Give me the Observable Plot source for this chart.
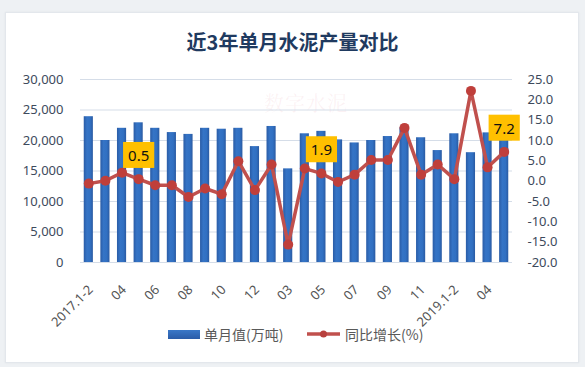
<!DOCTYPE html>
<html>
<head>
<meta charset="utf-8">
<script src="https://cdn.jsdelivr.net/npm/d3@7"></script>
<script src="https://cdn.jsdelivr.net/npm/@observablehq/plot@0.6"></script>
<style>
  html, body { margin: 0; padding: 0; }
  body { width: 585px; height: 367px; background: #eef1f4; position: relative; overflow: hidden;
         font-family: "Noto Sans", "Noto Sans CJK SC", sans-serif; }
  #card { position: absolute; left: 5px; top: 12px; width: 572px; height: 349px; background: #fff;
          border: 1px solid #e3e7ec; box-shadow: 0 0 2px rgba(0,0,0,0.06); }
  #title { position: absolute; left: 0; width: 585px; top: 27px; text-align: center;
           font: bold 20px "Noto Sans CJK SC", sans-serif; color: #1f3a60; letter-spacing: 0px; }
  #chart { position: absolute; left: 0; top: 0; }
  #legend { position: absolute; top: 324px; left: 0; width: 585px; height: 20px;
            font: 14px "Noto Sans CJK SC", sans-serif; color: #595959; }
  .lg { position: absolute; top: 0; line-height: 20px; white-space: nowrap; }
  #wm { position: absolute; left: 264px; top: 88px; font: 20px "Noto Serif CJK SC", "Noto Sans CJK SC", serif;
        color: rgba(226, 150, 160, 0.13); letter-spacing: 1px; }
</style>
</head>
<body>
<div id="card"></div>
<div id="wm">数字水泥</div>
<div id="chart"></div>
<div id="title">近3年单月水泥产量对比</div>
<div id="legend">
  <div class="lg" style="left:168px;top:6px;width:32px;height:9px;background:linear-gradient(#3a78c8,#2a5ca8);"></div>
  <div class="lg" style="left:204px;">单月值(万吨)</div>
  <svg class="lg" style="left:306px;top:4px;" width="35" height="12">
    <line x1="1" y1="6" x2="34" y2="6" stroke="#c0504d" stroke-width="3.5"/>
    <circle cx="17.5" cy="6" r="3.5" fill="#b8403d"/>
  </svg>
  <div class="lg" style="left:345px;">同比增长(%)</div>
</div>
<script>
const categories = ["2017.1-2","2017.03","2017.04","2017.05","2017.06","2017.07","2017.08","2017.09","2017.10","2017.11","2017.12",
  "2018.1-2","2018.03","2018.04","2018.05","2018.06","2018.07","2018.08","2018.09","2018.10","2018.11","2018.12",
  "2019.1-2","2019.03","2019.04","2019.05"];
const shortLabels = ["2017.1-2","03","04","05","06","07","08","09","10","11","12",
  "2018.1-2","03","04","05","06","07","08","09","10","11","12",
  "2019.1-2","03","04","05"];
const output = [23900, 20000, 22000, 22900, 22000, 21300, 21000, 22000, 21850, 22000, 19000,
  22300, 15350, 21100, 21500, 20100, 19600, 20000, 20650, 22100, 20450, 18350,
  21100, 18000, 21250, 20300];
const growth = [-0.6, 0.1, 2.1, 0.5, -1.0, -1.0, -3.9, -1.8, -3.2, 4.9, -2.2,
  4.1, -15.6, 3.1, 1.9, -0.2, 1.6, 5.2, 5.2, 13.1, 1.6,
  4.1, 0.5, 22.2, 3.4, 7.2];
const labeledMonths = ["2017.05", "2018.05", "2019.05"];
const leftTicks = [0, 5000, 10000, 15000, 20000, 25000, 30000];
const rightTicks = [-20, -15, -10, -5, 0, 5, 10, 15, 20, 25];
const tickedMonths = categories.filter((_, i) => i % 2 === 0);

const leftMax = 30000, rMin = -20, rMax = 25;
const toLeft = g => (g - rMin) / (rMax - rMin) * leftMax;
const fromLeft = v => v / leftMax * (rMax - rMin) + rMin;

const shortMap = new Map(categories.map((c, i) => [c, shortLabels[i]]));
const rows = categories.map((c, i) => ({month: c, output: output[i], growth: growth[i], gy: toLeft(growth[i])}));
const labelRows = rows.filter(d => labeledMonths.includes(d.month));

const numFont = '"Noto Sans", sans-serif';

const plot = Plot.plot({
  width: 585,
  height: 340,
  marginLeft: 80,
  marginRight: 73,
  marginTop: 79,
  marginBottom: 78,
  style: {background: "transparent", fontFamily: numFont},
  x: {domain: categories, paddingInner: 0.45, paddingOuter: 0.225, round: false, label: null},
  y: {domain: [0, leftMax], label: null},
  marks: [
    Plot.gridY(leftTicks, {stroke: "#d5dde8", strokeOpacity: 1, strokeWidth: 1}),
    Plot.barY(rows, {x: "month", y: "output", fill: "url(#barGrad)"}),
    Plot.line(rows, {x: "month", y: "gy", stroke: "#c0504d", strokeWidth: 3.5, curve: "linear"}),
    Plot.dot(rows, {x: "month", y: "gy", r: 5, fill: "#bf3f3b", stroke: "none"}),
    Plot.text(labelRows, {x: "month", y: "gy", text: d => d.growth.toFixed(1), dy: -23,
      fontSize: 15, fill: "#111", fontFamily: numFont, ariaLabel: "value-label"}),
    Plot.axisY({ticks: leftTicks, tickSize: 0, tickPadding: 17, tickFormat: d => d3.format(",")(d),
      fontSize: 13, fill: "#3d4a5c", label: null}),
    Plot.axisY({anchor: "right", ticks: rightTicks.map(toLeft), tickSize: 0, tickPadding: 15,
      tickFormat: d => fromLeft(d).toFixed(1), fontSize: 13, fill: "#3d4a5c", label: null}),
    Plot.axisX({ticks: tickedMonths, tickFormat: d => shortMap.get(d), tickRotate: -45, tickSize: 0,
      tickPadding: 5, dx: 2, dy: 20, fontSize: 13, fill: "#555", label: null})
  ]
});

document.getElementById("chart").appendChild(plot);

// gradient for bars
const svg = d3.select(plot);
const defs = svg.insert("defs", ":first-child");
const grad = defs.append("linearGradient").attr("id", "barGrad")
  .attr("x1", 0).attr("x2", 1).attr("y1", 0).attr("y2", 0);
grad.append("stop").attr("offset", "0%").attr("stop-color", "#2a5ca6");
grad.append("stop").attr("offset", "35%").attr("stop-color", "#3574c6");
grad.append("stop").attr("offset", "70%").attr("stop-color", "#3170c2");
grad.append("stop").attr("offset", "100%").attr("stop-color", "#2a5aa2");

// yellow boxes behind value labels
let labelTexts = svg.selectAll('g[aria-label="value-label"] text');
if (labelTexts.empty()) {
  labelTexts = svg.selectAll("text").filter(function() {
    return ["0.5", "1.9", "7.2"].includes(this.textContent) && !this.closest('g[aria-label*="axis"]');
  });
}
labelTexts.each(function() {
  const b = this.getBBox();
  const padX = 5, padY = 3;
  d3.select(this.parentNode).insert("rect", () => this)
    .attr("x", b.x - padX).attr("y", b.y - padY)
    .attr("width", b.width + 2 * padX).attr("height", b.height + 2 * padY)
    .attr("transform", this.getAttribute("transform"))
    .attr("fill", "#ffc000");
});
</script>
</body>
</html>
